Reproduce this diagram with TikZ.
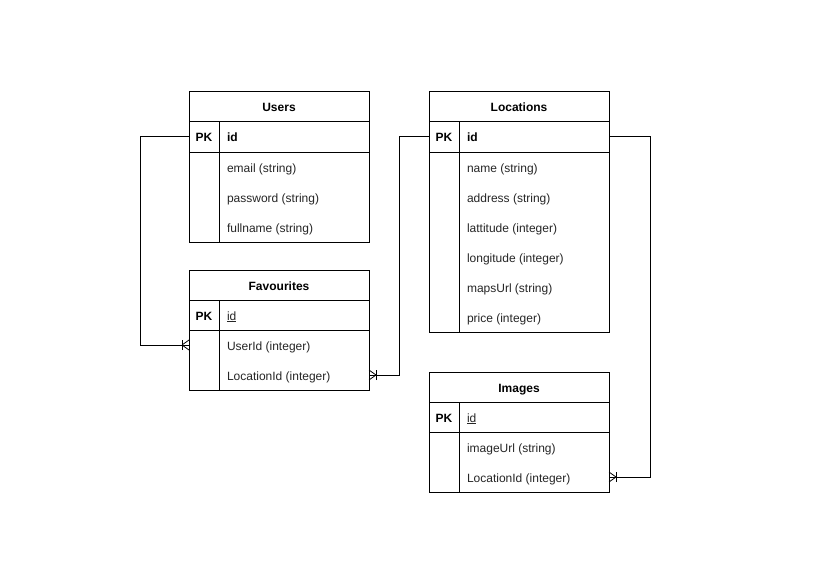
\documentclass[tikz,border=0pt]{standalone}
\usepackage{fontspec}
\setmainfont{Liberation Sans}
\begin{document}
\begin{tikzpicture}[x=1pt,y=-1pt,
  every node/.style={inner sep=0pt, outer sep=0pt},
  frame/.style={draw, line width=1pt, rectangle, anchor=north west, minimum width=180pt},
  sep/.style={line width=1pt},
  txt/.style={font=\fontsize{12}{14}\selectfont, text height=9pt, text depth=3pt, yshift=-2pt},
  title/.style={txt, font=\fontsize{12}{14}\selectfont\bfseries, anchor=center},
  keycell/.style={txt, font=\fontsize{12}{14}\selectfont\bfseries, anchor=center},
  pkname/.style={txt, font=\fontsize{12}{14}\selectfont\bfseries, anchor=west},
  pkunder/.style={txt, anchor=west, text=black!85},
  field/.style={txt, anchor=west, text=black!85},
  rel/.style={line width=1pt},
  crowfoot/.pic={
    \draw[line width=0.8pt] (-7,-5) -- (-7,5);
    \draw[line width=0.8pt] (-7,0) -- (0,-5);
    \draw[line width=0.8pt] (-7,0) -- (0,5);
    \draw[line width=0.8pt] (-7,0) -- (0,0);
  },
]
\fill[white] (0,0) rectangle (827,583);
\useasboundingbox (0,0) rectangle (827,583);

% ---------- Users ----------
\node[frame, minimum height=150pt] (users) at (189,92) {};
\draw[sep] (189,122) -- (369,122);
\draw[sep] (189,152) -- (369,152);
\draw[sep] (219,122) -- (219,242);
\node[title] (users-title) at (279,107) {Users};
\node[keycell] (users-pk) at (204,137) {PK};
\node[pkname] (users-id) at (227,137) {id};
\node[field] (users-email) at (227,167) {email (string)};
\node[field] (users-password) at (227,197) {password (string)};
\node[field] (users-fullname) at (227,227) {fullname (string)};
\coordinate (users-pk-l) at (189,137);

% ---------- Favourites ----------
\node[frame, minimum height=120pt] (fav) at (189,270) {};
\draw[sep] (189,300) -- (369,300);
\draw[sep] (189,330) -- (369,330);
\draw[sep] (219,300) -- (219,390);
\node[title] (fav-title) at (279,285) {Favourites};
\node[keycell] (fav-pk) at (204,315) {PK};
\node[pkunder] (fav-id) at (227,315) {\underline{id}};
\node[field] (fav-userid) at (227,345) {UserId (integer)};
\node[field] (fav-locid) at (227,375) {LocationId (integer)};
\coordinate (fav-userid-l) at (189,345);
\coordinate (fav-locid-r) at (369,375);

% ---------- Locations ----------
\node[frame, minimum height=240pt] (loc) at (429,92) {};
\draw[sep] (429,122) -- (609,122);
\draw[sep] (429,152) -- (609,152);
\draw[sep] (459,122) -- (459,332);
\node[title] (loc-title) at (519,107) {Locations};
\node[keycell] (loc-pk) at (444,137) {PK};
\node[pkname] (loc-id) at (467,137) {id};
\node[field] (loc-name) at (467,167) {name (string)};
\node[field] (loc-address) at (467,197) {address (string)};
\node[field] (loc-lat) at (467,227) {lattitude (integer)};
\node[field] (loc-long) at (467,257) {longitude (integer)};
\node[field] (loc-maps) at (467,287) {mapsUrl (string)};
\node[field] (loc-price) at (467,317) {price (integer)};
\coordinate (loc-pk-l) at (429,137);
\coordinate (loc-pk-r) at (609,137);

% ---------- Images ----------
\node[frame, minimum height=120pt] (img) at (429,372) {};
\draw[sep] (429,402) -- (609,402);
\draw[sep] (429,432) -- (609,432);
\draw[sep] (459,402) -- (459,492);
\node[title] (img-title) at (519,387) {Images};
\node[keycell] (img-pk) at (444,417) {PK};
\node[pkunder] (img-id) at (467,417) {\underline{id}};
\node[field] (img-url) at (467,447) {imageUrl (string)};
\node[field] (img-locid) at (467,477) {LocationId (integer)};
\coordinate (img-locid-r) at (609,477);

% ---------- Relationships (one to many) ----------
\draw[rel] (users-pk-l) -- ++(-49,0) |- (fav-userid-l);
\pic at (fav-userid-l) {crowfoot};

\draw[rel] (loc-pk-l) -- ++(-30,0) |- (fav-locid-r);
\pic[rotate=180] at (fav-locid-r) {crowfoot};

\draw[rel] (loc-pk-r) -- ++(41,0) |- (img-locid-r);
\pic[rotate=180] at (img-locid-r) {crowfoot};
\end{tikzpicture}
\end{document}
